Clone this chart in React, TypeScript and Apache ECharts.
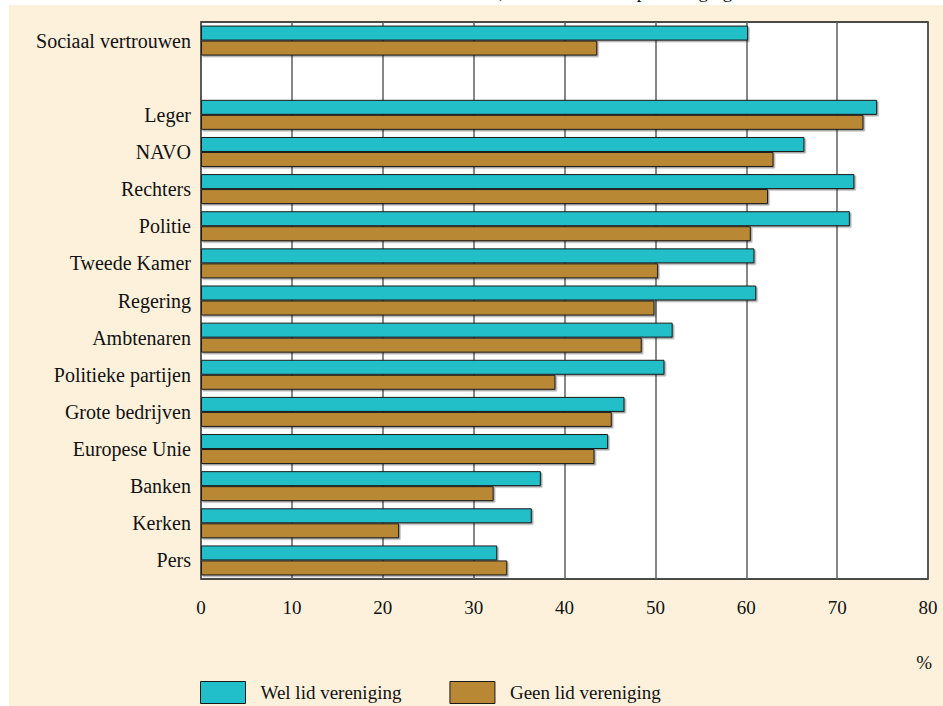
import React, { useEffect, useRef } from "react";
import * as echarts from "echarts";

const categories = [
  "Sociaal vertrouwen",
  "",
  "Leger",
  "NAVO",
  "Rechters",
  "Politie",
  "Tweede Kamer",
  "Regering",
  "Ambtenaren",
  "Politieke partijen",
  "Grote bedrijven",
  "Europese Unie",
  "Banken",
  "Kerken",
  "Pers",
];

const welLid = [60.2, null, 74.4, 66.4, 71.9, 71.4, 60.9, 61.1, 51.9, 51.0, 46.6, 44.8, 37.4, 36.4, 32.6];
const geenLid = [43.6, null, 72.9, 63.0, 62.4, 60.5, 50.3, 49.9, 48.5, 39.0, 45.2, 43.3, 32.2, 21.8, 33.7];

const seriesNames = ["Wel lid vereniging", "Geen lid vereniging"];
const xTicks = { min: 0, max: 80, interval: 10 };
const titleText = "Sociaal vertrouwen en vertrouwen in instituties, naar lidmaatschap vereniging";
const unitText = "%";

const FONT = "'Liberation Serif', 'Times New Roman', serif";
const CYAN = "#21bfc9";
const BROWN = "#b98835";
const CREAM = "#fef1dc";

export default function App() {
  const ref = useRef<HTMLDivElement>(null);

  useEffect(() => {
    if (!ref.current) return;
    const chart = echarts.init(ref.current, null, { renderer: "svg" });
    const barStyle = (color: string) => ({
      color,
      borderColor: "#1a1a1a",
      borderWidth: 1,
      shadowColor: "rgba(0,0,0,0.35)",
      shadowOffsetX: 1.5,
      shadowOffsetY: 1.5,
      shadowBlur: 1,
    });
    chart.setOption({
      animation: false,
      backgroundColor: "#ffffff",
      graphic: [
        {
          type: "rect",
          z: -10,
          silent: true,
          shape: { x: 9, y: 5, width: 940, height: 710 },
          style: { fill: CREAM },
        },
        {
          type: "text",
          x: 436,
          y: 1,
          silent: true,
          style: {
            text: titleText,
            font: `19px ${FONT}`,
            fill: "#111",
            textAlign: "center",
            textVerticalAlign: "bottom",
          },
        },
        {
          type: "text",
          x: 932,
          y: 662,
          silent: true,
          style: {
            text: unitText,
            font: `19px ${FONT}`,
            fill: "#111",
            textAlign: "right",
            textVerticalAlign: "middle",
          },
        },
      ],
      legend: {
        left: 195,
        top: 676,
        itemWidth: 45,
        itemHeight: 22,
        itemGap: 48,
        icon: "rect",
        selectedMode: false,
        data: seriesNames,
        itemStyle: { borderColor: "#1a1a1a", borderWidth: 1 },
        textStyle: {
          fontFamily: FONT,
          fontSize: 19,
          color: "#111",
          padding: [6, 0, 0, 10],
        },
      },
      grid: {
        left: 201,
        right: 15,
        top: 22,
        height: 557,
        show: true,
        backgroundColor: "#ffffff",
        borderColor: "#111",
        borderWidth: 1.5,
      },
      xAxis: {
        type: "value",
        min: xTicks.min,
        max: xTicks.max,
        interval: xTicks.interval,
        axisLine: { show: false },
        axisTick: { show: false },
        axisLabel: {
          margin: 19,
          fontFamily: FONT,
          fontSize: 19,
          color: "#111",
        },
        splitLine: { show: true, lineStyle: { color: "#5f5f5f", width: 1.5 } },
      },
      yAxis: {
        type: "category",
        data: categories,
        inverse: true,
        axisLine: { show: false },
        axisTick: { show: false },
        axisLabel: {
          margin: 10,
          fontFamily: FONT,
          fontSize: 20,
          color: "#111",
        },
        splitLine: { show: false },
      },
      series: [
        {
          name: seriesNames[0],
          type: "bar",
          data: welLid,
          barWidth: 15,
          barGap: "0%",
          itemStyle: barStyle(CYAN),
        },
        {
          name: seriesNames[1],
          type: "bar",
          data: geenLid,
          barWidth: 15,
          barGap: "0%",
          itemStyle: barStyle(BROWN),
        },
      ],
    });
    return () => chart.dispose();
  }, []);

  return (
    <div
      ref={ref}
      style={{ position: "absolute", left: 0, top: 0, width: 943, height: 706 }}
    />
  );
}
